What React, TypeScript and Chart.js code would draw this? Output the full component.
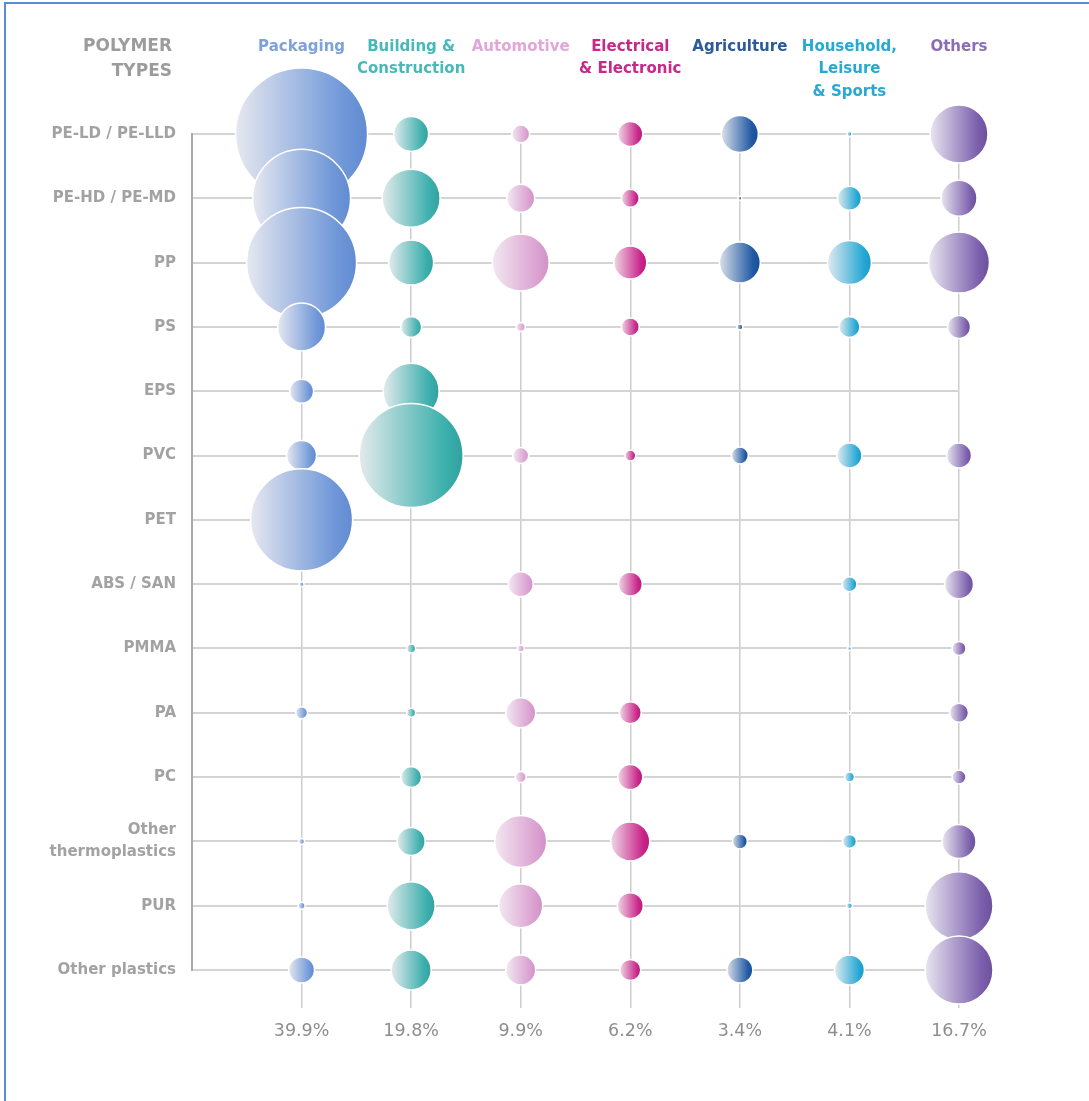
import React, { useEffect, useRef } from 'react';
import { Chart, registerables } from 'chart.js';

Chart.register(...registerables);

// ---- data ----
const sectors = ['Packaging', 'Building & Construction', 'Automotive', 'Electrical & Electronic', 'Agriculture', 'Household, Leisure & Sports', 'Others'];
const sectorHeaderLines = [['Packaging'], ['Building &', 'Construction'], ['Automotive'], ['Electrical', '& Electronic'], ['Agriculture'], ['Household,', 'Leisure', '& Sports'], ['Others']];
const sectorShares = ['39.9%', '19.8%', '9.9%', '6.2%', '3.4%', '4.1%', '16.7%'];
const polymerTypes = [['PE-LD / PE-LLD'], ['PE-HD / PE-MD'], ['PP'], ['PS'], ['EPS'], ['PVC'], ['PET'], ['ABS / SAN'], ['PMMA'], ['PA'], ['PC'], ['Other', 'thermoplastics'], ['PUR'], ['Other plastics']];
const titleLines = ['POLYMER', 'TYPES'];

// bubble sizes per sector, in polymer order (0 = no bubble)
const packaging = [66, 49, 55, 24, 12, 15, 51, 2.5, 0, 6, 0, 3, 3.5, 13];
const building = [17.5, 29, 22.5, 10.5, 28, 52, 0, 0, 4.5, 4.5, 10.5, 14, 24, 20];
const automotive = [9, 14, 28.5, 4.5, 0, 8, 0, 12.5, 3.5, 15, 5.5, 26, 22, 15];
const electrical = [12.5, 9, 16.5, 9, 0, 5.5, 0, 12, 0, 11, 12.5, 19.5, 13, 10.5];
const agriculture = [18.5, 2, 20.5, 3, 0, 8.5, 0, 0, 0, 0, 0, 7.5, 0, 13];
const household = [2.5, 12, 22, 10.5, 0, 12.5, 0, 7.5, 2, 1.5, 5, 7, 3, 15];
const others = [29, 18, 30.5, 11.5, 0, 12.5, 0, 14.5, 7, 9.5, 7, 17, 34, 34];
const columns = [packaging, building, automotive, electrical, agriculture, household, others];

// ---- styles ----
const sectorColors = ['#6f97d8', '#3cb0ad', '#da9fd0', '#c9258a', '#2059a3', '#26a8d4', '#7c60ad'];
const sectorDark = ['#628bd2', '#31a19e', '#d191c7', '#b81c78', '#1a4f95', '#1d98c4', '#6c509c'];
const sectorLight = ['#e6e8f0', '#e3eaec', '#f2e8f1', '#efd9e6', '#dbe0ea', '#e1ebf0', '#e9e6f0'];
const headerColors = ['#7fa2da', '#48b9b8', '#e2a6d8', '#c7288a', '#2c5b9c', '#27a9d4', '#8a6db6'];

const FONT = "'DejaVu Sans', sans-serif";

export default function App() {
  const canvasRef = useRef<HTMLCanvasElement | null>(null);

  useEffect(() => {
    const canvas = canvasRef.current;
    if (!canvas) return;

    const datasets = columns.map((sizes, ci) => ({
      label: sectors[ci],
      data: sizes.map((r, ri) => ({ x: ci, y: ri, r })).filter((p) => p.r > 0),
      backgroundColor: (ctx: any) => {
        const chart = ctx.chart;
        const raw = ctx.raw;
        if (!raw || !chart.chartArea || !chart.scales.x) return sectorColors[ci];
        const px = chart.scales.x.getPixelForValue(raw.x);
        const r = raw.r;
        const g = chart.ctx.createLinearGradient(px - r, 0, px + r, 0);
        g.addColorStop(0, sectorLight[ci]);
        g.addColorStop(0.82, sectorColors[ci]);
        g.addColorStop(1, sectorDark[ci]);
        return g;
      },
      borderColor: '#ffffff',
      borderWidth: 1.5,
      clip: false as any,
      xAxisID: 'x',
      yAxisID: 'y',
    }));

    const titlePlugin = {
      id: 'polymerTitle',
      afterDraw(chart: any) {
        const c = chart.ctx;
        c.save();
        c.fillStyle = '#9c9c9c';
        c.font = `bold 17px ${FONT}`;
        c.textAlign = 'right';
        c.textBaseline = 'middle';
        c.fillText(titleLines[0], 172, 47);
        c.fillText(titleLines[1], 172, 72);
        c.restore();
      },
    };

    const chart = new Chart(canvas, {
      type: 'bubble',
      data: { datasets: datasets as any },
      plugins: [titlePlugin],
      options: {
        animation: false,
        responsive: false,
        events: [],
        layout: { padding: { top: 0, left: 0, right: 130, bottom: 0 } },
        plugins: { legend: { display: false }, tooltip: { enabled: false } },
        scales: {
          x: {
            type: 'linear',
            position: 'bottom',
            min: -1,
            max: 6,
            ticks: {
              stepSize: 1,
              autoSkip: false,
              maxRotation: 0,
              padding: 13,
              color: '#8e8e8e',
              font: { family: FONT, size: 17.5 },
              callback: (v: any) => (v >= 0 ? sectorShares[v] : ''),
            },
            grid: {
              color: (c: any) => (c.tick && c.tick.value < 0 ? 'rgba(0,0,0,0)' : '#cdcdcd'),
              lineWidth: 1.5,
              drawTicks: true,
              tickLength: 38,
            },
            border: { display: false },
            afterFit: (s: any) => {
              s.height = 131;
            },
          },
          x2: {
            type: 'linear',
            position: 'top',
            min: -1,
            max: 6,
            ticks: {
              stepSize: 1,
              autoSkip: false,
              maxRotation: 0,
              padding: 31,
              crossAlign: 'far',
              color: (c: any) => headerColors[c.tick ? c.tick.value : -1] || 'rgba(0,0,0,0)',
              font: { family: FONT, size: 15, weight: 'bold', lineHeight: 1.5 },
              callback: (v: any) => (v >= 0 ? sectorHeaderLines[v] : ''),
            },
            grid: { display: false, drawTicks: false },
            border: { display: false },
            afterFit: (s: any) => {
              s.height = 134;
            },
          },
          y: {
            type: 'linear',
            position: 'left',
            reverse: true,
            min: 0,
            max: 13,
            ticks: {
              stepSize: 1,
              autoSkip: false,
              padding: 16,
              color: '#a2a2a2',
              font: { family: FONT, size: 15, weight: 'bold', lineHeight: 1.47 },
              callback: (v: any) => polymerTypes[v],
            },
            grid: { color: '#d4d4d4', lineWidth: 2, drawTicks: false },
            border: { display: true, color: '#a9a9a9', width: 2 },
            afterFit: (s: any) => {
              s.width = 192;
            },
          },
        } as any,
      },
    });

    return () => {
      chart.destroy();
    };
  }, []);

  return (
    <div style={{ position: 'fixed', left: 0, top: 0, width: 1089, height: 1101, background: '#ffffff', overflow: 'hidden' }}>
      <div style={{ position: 'absolute', left: 4, top: 2, right: -10, bottom: -10, borderLeft: '2px solid #5b8bd0', borderTop: '2px solid #5b8bd0' }} />
      <canvas ref={canvasRef} width={1089} height={1101} style={{ position: 'absolute', left: 0, top: 0, width: 1089, height: 1101 }} />
    </div>
  );
}
